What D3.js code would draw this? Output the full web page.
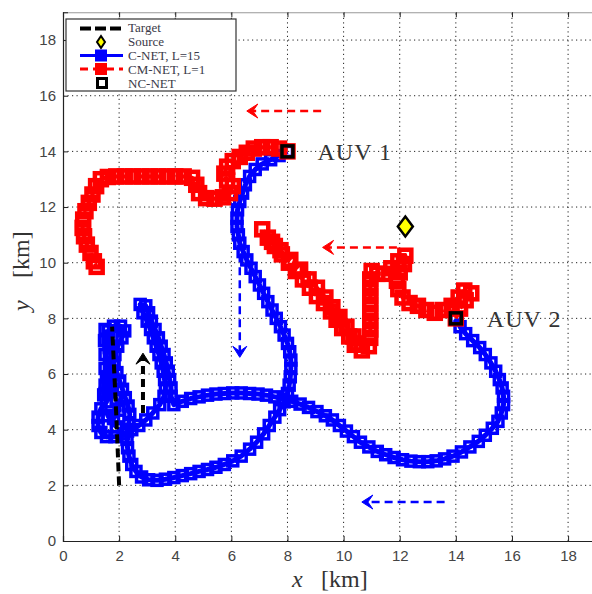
<!DOCTYPE html>
<html><head><meta charset="utf-8">
<script src="https://cdn.jsdelivr.net/npm/d3@7"></script>
<style>body{margin:0;background:#fff;} svg{display:block;}</style>
</head><body>
<svg id="c" width="592" height="594"></svg>
<script>
// ---------------- data ----------------
const xTicks = [0,2,4,6,8,10,12,14,16,18];
const yTicks = [0,2,4,6,8,10,12,14,16,18];
const xDomain = [0,19], yDomain = [0,19];

const targetTrack = [[2.0,2.0],[1.9,4.5],[1.75,7.7]];
const sourcePos = [12.2,11.3];
const ncnetStarts = [[8,14],[14,8]];
const auvLabels = ["AUV 1","AUV 2"];
const legendLabels = ["Target","Source","C-NET, L=15","CM-NET, L=1","NC-NET"];

const cnetAUV1 = [[8.0,14.0],[7.7,13.85],[7.4,13.7],[7.1,13.55],[6.85,13.35],[6.65,13.1],[6.5,12.8],[6.4,12.5],[6.3,12.2],[6.22,11.9],[6.2,11.6],[6.2,11.3],[6.25,11.0],[6.3,10.7],[6.42,10.4],[6.55,10.1],[6.7,9.8],[6.85,9.5],[7.0,9.2],[7.15,8.9],[7.3,8.6],[7.45,8.3],[7.6,8.0],[7.75,7.7],[7.88,7.4],[8.0,7.1],[8.08,6.8],[8.12,6.5],[8.12,6.2],[8.1,5.9],[8.06,5.6],[8.0,5.3],[7.88,5.0],[7.72,4.72],[7.55,4.45],[7.35,4.15],[7.15,3.85],[6.9,3.55],[6.65,3.3],[6.35,3.05],[6.05,2.88],[5.75,2.75],[5.45,2.65],[5.15,2.57],[4.85,2.5],[4.55,2.42],[4.25,2.35],[3.95,2.28],[3.65,2.22],[3.35,2.18],[3.05,2.2],[2.8,2.3],[2.6,2.5],[2.45,2.75],[2.35,3.05],[2.3,3.35],[2.28,3.65],[2.3,3.95],[2.35,4.25],[2.38,4.55],[2.32,4.85],[2.22,5.15],[2.12,5.45],[2.02,5.75],[1.92,6.05],[1.82,6.35],[1.72,6.65],[1.65,6.95],[1.6,7.25],[1.62,7.55],[1.8,7.72],[2.05,7.72],[2.2,7.55],[2.1,7.3],[1.95,7.0],[1.85,6.7],[1.8,6.4],[1.75,6.1],[1.7,5.8],[1.6,5.5],[1.45,5.25],[1.5,6.2],[1.5,6.7],[1.48,7.2],[1.5,7.6]];
const cnetAUV2 = [[14.0,8.0],[14.15,7.7],[14.35,7.45],[14.6,7.2],[14.85,6.95],[15.05,6.7],[15.25,6.4],[15.42,6.1],[15.55,5.8],[15.65,5.5],[15.7,5.2],[15.7,4.9],[15.62,4.6],[15.5,4.3],[15.3,4.05],[15.05,3.8],[14.8,3.58],[14.5,3.38],[14.2,3.2],[13.9,3.05],[13.6,2.95],[13.3,2.88],[13.0,2.85],[12.7,2.85],[12.4,2.87],[12.1,2.92],[11.8,3.0],[11.5,3.1],[11.2,3.22],[10.9,3.38],[10.6,3.55],[10.35,3.75],[10.1,3.95],[9.85,4.15],[9.6,4.35],[9.35,4.5],[9.05,4.65],[8.75,4.8],[8.45,4.92],[8.15,5.02],[7.85,5.1],[7.55,5.18],[7.25,5.24],[6.95,5.28],[6.65,5.3],[6.35,5.32],[6.05,5.32],[5.75,5.3],[5.45,5.28],[5.15,5.24],[4.85,5.18],[4.55,5.12],[4.25,5.02],[3.95,4.9],[3.85,5.2],[3.85,5.5],[3.8,5.8],[3.75,6.1],[3.68,6.4],[3.6,6.7],[3.5,7.0],[3.4,7.3],[3.28,7.6],[3.15,7.9],[3.05,8.2],[2.95,8.45],[2.75,8.5],[2.85,8.2],[3.0,7.9],[3.12,7.6],[3.22,7.3],[3.32,7.0],[3.42,6.7],[3.5,6.4],[3.57,6.1],[3.62,5.8],[3.65,5.5],[3.6,5.2],[3.45,4.9],[3.2,4.6],[2.95,4.35],[2.7,4.15],[2.45,4.0],[2.15,3.85],[1.85,3.75],[1.55,3.75],[1.35,3.9],[1.25,4.15],[1.25,4.45],[1.35,4.75],[1.55,5.0],[1.5,5.3],[1.5,5.6],[1.55,5.9],[1.7,5.5],[1.9,5.1],[2.0,4.7],[1.8,4.4],[1.6,4.5],[1.9,4.1]];
const cmnetAUV1 = [[8.0,14.0],[7.7,14.1],[7.4,14.15],[7.1,14.15],[6.8,14.1],[6.55,13.95],[6.3,13.8],[6.05,13.65],[5.85,13.45],[5.75,13.2],[5.85,12.95],[6.05,12.75],[5.95,12.5],[5.7,12.35],[5.4,12.3],[5.1,12.32],[4.85,12.5],[4.75,12.8],[4.6,13.05],[4.3,13.1],[4.0,13.1],[3.7,13.1],[3.4,13.1],[3.1,13.1],[2.8,13.1],[2.5,13.1],[2.2,13.1],[1.9,13.1],[1.6,13.08],[1.35,13.0],[1.18,12.75],[1.05,12.45],[0.92,12.15],[0.8,11.85],[0.72,11.55],[0.7,11.25],[0.75,10.95],[0.85,10.65],[0.98,10.35],[1.1,10.05],[1.2,9.85]];
const cmnetAUV2 = [[14.0,8.0],[14.15,8.35],[14.35,8.65],[14.55,8.9],[14.3,9.0],[14.1,8.75],[13.85,8.45],[13.55,8.3],[13.25,8.2],[12.95,8.3],[12.65,8.45],[12.35,8.55],[12.1,8.75],[11.95,9.05],[11.9,9.35],[12.0,9.65],[12.15,9.95],[12.2,10.25],[11.95,10.05],[11.7,9.8],[11.45,9.6],[11.2,9.6],[11.0,9.7],[10.95,9.4],[10.95,9.1],[10.95,8.8],[10.95,8.5],[10.95,8.2],[10.95,7.9],[10.95,7.6],[10.95,7.3],[10.9,7.0],[10.65,6.85],[10.4,7.05],[10.2,7.35],[9.95,7.65],[9.75,7.95],[9.55,8.25],[9.3,8.55],[9.05,8.8],[8.8,9.1],[8.55,9.4],[8.3,9.7],[8.05,10.0],[7.8,10.3],[7.55,10.6],[7.3,10.9],[7.1,11.2],[7.45,10.75],[7.75,10.45],[8.1,10.1],[8.45,9.75],[8.75,9.4],[9.05,9.1],[9.35,8.75],[9.6,8.4],[9.85,8.05],[10.1,7.7],[10.35,7.35],[10.5,7.1]];

// annotation arrows [x1,y1,x2,y2] (arrowhead at x2,y2)
const redArrows = [[9.2,15.45,6.55,15.45],[11.9,10.55,9.25,10.55]];
const blueArrows = [[6.3,10.3,6.3,6.6],[13.6,1.4,10.65,1.4]];
const blackArrows = [[2.85,4.6,2.85,6.75]];

// ---------------- drawing ----------------
const svg = d3.select("#c");
const x = d3.scaleLinear().domain(xDomain).range([63, 63+19*28.06]);
const y = d3.scaleLinear().domain(yDomain).range([541, 541-19*27.83]);
const X0=x(0), X1=x(19), Y0=y(0), Y1=y(19);

const serif = "'Liberation Serif','DejaVu Serif',serif";
const sans = "'Liberation Sans',Arial,sans-serif";

// grid
const grid = svg.append("g").attr("stroke","#222").attr("stroke-width",1).attr("stroke-dasharray","1.2,3.3");
xTicks.filter(d=>d>0).forEach(t=>grid.append("line").attr("x1",x(t)).attr("x2",x(t)).attr("y1",Y0).attr("y2",Y1));
yTicks.filter(d=>d>0).forEach(t=>grid.append("line").attr("y1",y(t)).attr("y2",y(t)).attr("x1",X0).attr("x2",X1));

// axes with inward ticks
const xAxisB = d3.axisBottom(x).tickValues(xTicks).tickSize(-5).tickPadding(9).tickFormat(d3.format("d"));
const xAxisT = d3.axisTop(x).tickValues(xTicks).tickSize(-5).tickFormat("");
const yAxisL = d3.axisLeft(y).tickValues(yTicks).tickSize(-5).tickPadding(7).tickFormat(d3.format("d"));
const gB = svg.append("g").attr("transform",`translate(0,${Y0})`).call(xAxisB);
const gT = svg.append("g").attr("transform",`translate(0,${Y1})`).call(xAxisT);
const gL = svg.append("g").attr("transform",`translate(${X0},0)`).call(yAxisL);
[gB,gT,gL].forEach(g=>{
  g.select(".domain").attr("stroke","#222").attr("stroke-width",1.2);
  g.selectAll(".tick line").attr("stroke","#222");
  g.selectAll("text").attr("font-family",sans).attr("font-size",15).attr("fill","#444");
});
gT.select(".domain").attr("stroke","#999");

const line = d3.line().x(d=>x(d[0])).y(d=>y(d[1]));

function drawSeries(data, color, dash, lw, side, sw){
  svg.append("path").attr("d",line(data)).attr("fill","none").attr("stroke",color).attr("stroke-width",lw).attr("stroke-dasharray",dash).attr("stroke-linejoin","round");
  svg.append("g").selectAll("rect").data(data).join("rect")
    .attr("x",d=>x(d[0])-side/2).attr("y",d=>y(d[1])-side/2)
    .attr("width",side).attr("height",side)
    .attr("fill","none").attr("stroke",color).attr("stroke-width",sw);
}
// blue C-NET
drawSeries(cnetAUV1,"#0000ff",null,5,10,3.5);
drawSeries(cnetAUV2,"#0000ff",null,5,10,3.5);

// arrows
function arrow(a,color,w,dash){
  const [x1,y1,x2,y2]=a;
  const px1=x(x1),py1=y(y1),px2=x(x2),py2=y(y2);
  const len=Math.hypot(px2-px1,py2-py1), dx=(px2-px1)/len, dy=(py2-py1)/len;
  const L=11,W=7;
  svg.append("line").attr("x1",px1).attr("y1",py1).attr("x2",px2-dx*6).attr("y2",py2-dy*6)
    .attr("stroke",color).attr("stroke-width",w).attr("stroke-dasharray",dash);
  const nx=-dy, ny=dx;
  const pts=[[px2,py2],[px2-L*dx+W*nx,py2-L*dy+W*ny],[px2-0.55*L*dx,py2-0.55*L*dy],[px2-L*dx-W*nx,py2-L*dy-W*ny]];
  svg.append("path").attr("d","M"+pts.map(p=>p.join(",")).join("L")+"Z").attr("fill",color).attr("stroke",color).attr("stroke-width",1);
}
blueArrows.forEach(a=>arrow(a,"#0000ff",2.5,"8,5"));

// red CM-NET
drawSeries(cmnetAUV1,"#ff0000","7,4",4,12,4.5);
drawSeries(cmnetAUV2,"#ff0000","7,4",4,12,4.5);
redArrows.forEach(a=>arrow(a,"#ff0000",2.5,"8,5"));

// target
svg.append("path").attr("d",line(targetTrack)).attr("fill","none").attr("stroke","#000").attr("stroke-width",4).attr("stroke-dasharray","9,5");
blackArrows.forEach(a=>arrow(a,"#000",4,"8,5"));

// NC-NET
svg.append("g").selectAll("rect").data(ncnetStarts).join("rect")
  .attr("x",d=>x(d[0])-5.5).attr("y",d=>y(d[1])-5.5).attr("width",11).attr("height",11)
  .attr("fill","none").attr("stroke","#000").attr("stroke-width",3.5);

// source
const sx=x(sourcePos[0]), sy=y(sourcePos[1]);
svg.append("path").attr("d",`M${sx},${sy-10}L${sx+7.5},${sy}L${sx},${sy+10}L${sx-7.5},${sy}Z`)
  .attr("fill","#ffff00").attr("stroke","#000").attr("stroke-width",2.5);

// AUV labels
svg.append("text").attr("x",x(8)+30).attr("y",y(14)+9).text(auvLabels[0])
  .attr("font-family",serif).attr("font-size",24).attr("fill","#333").attr("letter-spacing",1);
svg.append("text").attr("x",x(14)+31).attr("y",y(8)+9).text(auvLabels[1])
  .attr("font-family",serif).attr("font-size",24).attr("fill","#333").attr("letter-spacing",1);

// axis labels
svg.append("text").attr("x",292).attr("y",587).text("x").attr("font-family",serif).attr("font-style","italic").attr("font-size",24).attr("fill","#333");
svg.append("text").attr("x",321).attr("y",587).text("[km]").attr("font-family",serif).attr("font-size",24).attr("fill","#333");
svg.append("text").attr("transform","translate(29,311) rotate(-90)").text("y").attr("font-family",serif).attr("font-style","italic").attr("font-size",24).attr("fill","#333");
svg.append("text").attr("transform","translate(29,278) rotate(-90)").text("[km]").attr("font-family",serif).attr("font-size",24).attr("fill","#333");

// legend
const lg = svg.append("g");
lg.append("rect").attr("x",66).attr("y",19).attr("width",170).attr("height",72).attr("fill","#fff").attr("stroke","#333").attr("stroke-width",1.2);
const rowsY=[28.5,42,55.5,69,83], textY=[32,46,60,74,88];
lg.append("line").attr("x1",80).attr("x2",123).attr("y1",rowsY[0]).attr("y2",rowsY[0]).attr("stroke","#000").attr("stroke-width",4).attr("stroke-dasharray","11,4");
lg.append("path").attr("d",`M101,${rowsY[1]-6}L105,${rowsY[1]}L101,${rowsY[1]+6}L97,${rowsY[1]}Z`).attr("fill","#ffff00").attr("stroke","#000").attr("stroke-width",2);
lg.append("line").attr("x1",80).attr("x2",123).attr("y1",rowsY[2]).attr("y2",rowsY[2]).attr("stroke","#0000ff").attr("stroke-width",3);
lg.append("rect").attr("x",95).attr("y",rowsY[2]-6).attr("width",12).attr("height",12).attr("fill","#0000ff");
lg.append("line").attr("x1",80).attr("x2",123).attr("y1",rowsY[3]).attr("y2",rowsY[3]).attr("stroke","#ff0000").attr("stroke-width",3).attr("stroke-dasharray","8,5");
lg.append("rect").attr("x",95).attr("y",rowsY[3]-6).attr("width",12).attr("height",12).attr("fill","#ff0000");
lg.append("rect").attr("x",97.5).attr("y",rowsY[4]-4.5).attr("width",9).attr("height",9).attr("fill","#fff").attr("stroke","#000").attr("stroke-width",3);
legendLabels.forEach((t,i)=>lg.append("text").attr("x",128).attr("y",textY[i]).text(t)
  .attr("font-family",serif).attr("font-size",13).attr("fill","#3a3a48"));
</script>
</body></html>
